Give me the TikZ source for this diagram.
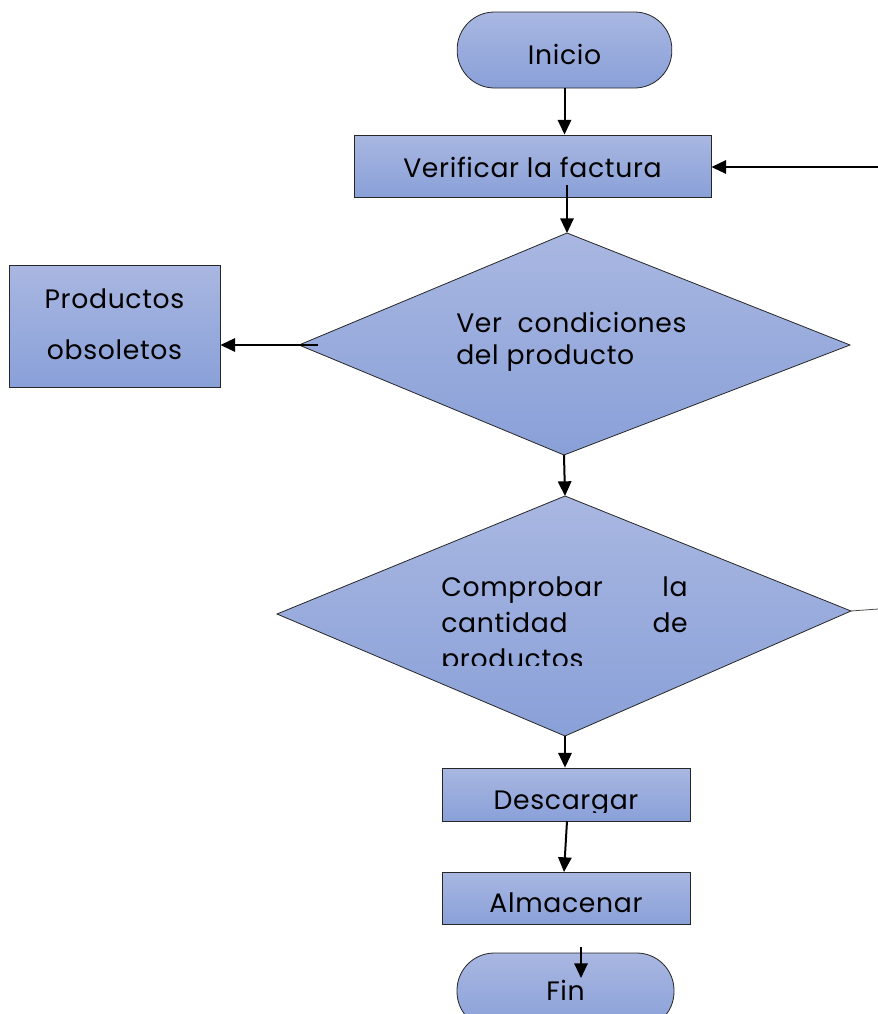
\documentclass[tikz,border=0pt]{standalone}
\usepackage{fontspec}
\setmainfont{Poppins}[LetterSpace=2.5]
\usetikzlibrary{arrows.meta}
\definecolor{fondoA}{HTML}{A9B7E1}
\definecolor{fondoB}{HTML}{89A0D8}

\begin{document}
\begin{tikzpicture}[x=0.75pt,y=-0.75pt,
  caja/.style={draw=black!85,line width=0.6pt,top color=fondoA,bottom color=fondoB,inner sep=0pt},
  flecha/.style={line width=1.5pt,-{Triangle[length=11pt,width=10pt]}},
  texto/.style={font=\fontsize{20}{24}\selectfont,inner sep=0pt}]

\useasboundingbox (0,0) rectangle (878,1014);
\clip (0,0) rectangle (878,1014);

% coordinates of the two diamonds
\coordinate (c1n) at (567,233);
\coordinate (c1e) at (850,345);
\coordinate (c1s) at (564,455);
\coordinate (c1w) at (299,345);
\coordinate (c2n) at (565,496);
\coordinate (c2e) at (851,611);
\coordinate (c2s) at (565,736);
\coordinate (c2w) at (277,614);

\node[caja,rounded corners=28pt,minimum width=161pt,minimum height=57pt] (inicio) at (564.5,50) {};
\node[texto,anchor=base] (ini) at (564.5,64) {Inicio};
\node[caja,minimum width=267.75pt,minimum height=46.5pt] (verificar) at (532.5,166) {};
\node[texto,anchor=base] (ver) at (532.5,177) {Verificar la factura};
\node[caja,minimum width=158.25pt,minimum height=91.5pt] (obsoletos) at (114.5,326) {};
\node[texto,anchor=base] (obs1) at (114.5,308) {Productos};
\node[texto,anchor=base] (obs2) at (114.5,359) {obsoletos};

\shade[caja] (c1n) -- (c1e) -- (c1s) -- (c1w) -- cycle;
\node[texto,anchor=base west] (cond1) at (456,332) {Ver\ \ condiciones};
\node[texto,anchor=base west] (cond2) at (456,364) {del producto};

\shade[caja] (c2n) -- (c2e) -- (c2s) -- (c2w) -- cycle;
\begin{scope}
\clip (430,560) rectangle (700,665);
\node[texto,anchor=base west] (cant1) at (441,596) {Comprobar};
\node[texto,anchor=base east] (cant2) at (688,596) {la};
\node[texto,anchor=base west] (cant3) at (441,632) {cantidad};
\node[texto,anchor=base east] (cant4) at (688,632) {de};
\node[texto,anchor=base west] (cant5) at (441,668) {productos};
\end{scope}

\node[caja,minimum width=186pt,minimum height=39.75pt] (descargar) at (566,794.5) {};
\begin{scope}
\clip (442,768) rectangle (690,812);
\node[texto,anchor=base] (desc) at (566,809) {Descargar};
\end{scope}
\node[caja,minimum width=186pt,minimum height=39pt] (almacenar) at (566,898) {};
\node[texto,anchor=base] (alm) at (566,912) {Almacenar};
\node[caja,rounded corners=28pt,minimum width=162.75pt,minimum height=57pt] (fin) at (565.5,991) {};
\node[texto,anchor=base] (fn) at (565.5,1000) {Fin};

% connectors
\coordinate (retorno) at (878,167);
\coordinate (v1) at (567,185);
\coordinate (w1) at (318,345);
\coordinate (d1) at (567,821);
\coordinate (a1) at (581,947);
\coordinate (f1) at (581,978);
\draw[flecha] (inicio.south) -- (inicio.south |- verificar.north);
\draw[flecha] (retorno) -- (verificar.east |- retorno);
\draw[flecha] (v1) -- (c1n);
\draw[flecha] (w1) -- (obsoletos.east |- w1);
\draw[flecha] (c1s) -- (c2n);
\draw[line width=0.6pt,black!70] (c2e) -- (878,609);
\draw[flecha] (c2s) -- (c2s |- descargar.north);
\draw[flecha] (d1) -- (564,872);
\draw[flecha] (a1) -- (f1);
\end{tikzpicture}
\end{document}
